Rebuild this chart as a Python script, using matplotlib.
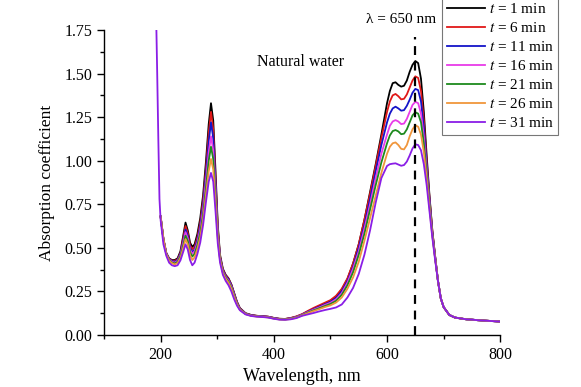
import numpy as np
import matplotlib.pyplot as plt
from matplotlib.ticker import MultipleLocator

plt.rcParams['font.family'] = ['Liberation Serif', 'DejaVu Serif']
plt.rcParams['mathtext.fontset'] = 'stix'

# wavelength grid (nm)
wl_uv = [200, 205, 210, 215, 220, 225, 230, 235, 240, 244, 248, 252, 256, 260,
         265, 270, 275, 280, 285, 289, 293, 297, 301, 305, 310, 315, 320, 325,
         330, 335, 340, 350, 360, 370, 380, 390, 400, 410, 420, 430, 440]
wl_mid = [450, 460, 470, 480, 490, 500, 510, 520, 530]
wl_vis = [540, 550, 560, 570, 580, 590, 600, 605, 610, 615, 620, 625, 630, 635,
          640, 645, 650, 655, 660, 665, 670, 675, 680, 685, 690, 695, 700]
wl_tail = [710, 720, 730, 740, 750, 760, 770, 780, 790, 800]
wl = wl_uv + wl_mid + wl_vis + wl_tail

# purple curve starts lower in wavelength
wl_start31 = [192, 194, 196, 198]
start31 = [1.85, 1.50, 1.12, 0.78]

tail = [0.115, 0.100, 0.095, 0.090, 0.088, 0.085, 0.083, 0.081, 0.079, 0.077]

a1 = ([0.68, 0.55, 0.47, 0.44, 0.43, 0.43, 0.44, 0.48, 0.57, 0.645, 0.60, 0.53, 0.505, 0.52,
       0.58, 0.67, 0.80, 0.99, 1.21, 1.33, 1.23, 0.94, 0.63, 0.46, 0.38, 0.345, 0.325, 0.29,
       0.24, 0.19, 0.155, 0.125, 0.115, 0.11, 0.108, 0.105, 0.098, 0.093, 0.092, 0.097, 0.105]
      + [0.118, 0.135, 0.15, 0.165, 0.18, 0.195, 0.22, 0.26, 0.32]
      + [0.41, 0.52, 0.66, 0.82, 0.98, 1.15, 1.33, 1.40, 1.445, 1.45, 1.435, 1.425, 1.43, 1.46,
         1.51, 1.55, 1.572, 1.56, 1.47, 1.28, 1.03, 0.80, 0.60, 0.45, 0.31, 0.21, 0.16]
      + tail)
a6 = ([0.68, 0.55, 0.47, 0.438, 0.427, 0.425, 0.435, 0.47, 0.555, 0.625, 0.585, 0.515, 0.49, 0.505,
       0.56, 0.645, 0.77, 0.95, 1.16, 1.28, 1.18, 0.90, 0.615, 0.45, 0.375, 0.342, 0.322, 0.288,
       0.238, 0.188, 0.153, 0.124, 0.114, 0.11, 0.108, 0.105, 0.098, 0.093, 0.092, 0.098, 0.107]
      + [0.12, 0.138, 0.155, 0.17, 0.185, 0.20, 0.225, 0.265, 0.325]
      + [0.41, 0.52, 0.66, 0.81, 0.97, 1.13, 1.28, 1.34, 1.375, 1.383, 1.37, 1.352, 1.355, 1.38,
         1.42, 1.46, 1.484, 1.475, 1.40, 1.23, 1.00, 0.79, 0.60, 0.45, 0.31, 0.21, 0.16]
      + tail)
a11 = ([0.68, 0.55, 0.47, 0.436, 0.424, 0.42, 0.43, 0.465, 0.54, 0.605, 0.57, 0.50, 0.475, 0.49,
        0.545, 0.625, 0.745, 0.92, 1.11, 1.22, 1.13, 0.87, 0.60, 0.445, 0.37, 0.338, 0.318, 0.284,
        0.234, 0.185, 0.151, 0.123, 0.113, 0.109, 0.107, 0.104, 0.097, 0.092, 0.091, 0.096, 0.104]
       + [0.117, 0.133, 0.148, 0.162, 0.176, 0.19, 0.212, 0.25, 0.31]
       + [0.39, 0.50, 0.63, 0.78, 0.94, 1.09, 1.22, 1.27, 1.30, 1.31, 1.30, 1.287, 1.29, 1.315,
          1.35, 1.39, 1.412, 1.405, 1.34, 1.19, 0.98, 0.78, 0.59, 0.45, 0.31, 0.21, 0.16]
       + tail)
a16 = ([0.68, 0.55, 0.468, 0.433, 0.42, 0.415, 0.425, 0.458, 0.53, 0.59, 0.555, 0.49, 0.465, 0.48,
        0.53, 0.605, 0.72, 0.88, 1.05, 1.14, 1.06, 0.83, 0.585, 0.44, 0.365, 0.333, 0.312, 0.278,
        0.229, 0.182, 0.149, 0.122, 0.112, 0.108, 0.106, 0.103, 0.096, 0.091, 0.09, 0.095, 0.103]
       + [0.116, 0.131, 0.145, 0.158, 0.172, 0.185, 0.205, 0.24, 0.30]
       + [0.38, 0.48, 0.61, 0.75, 0.90, 1.04, 1.15, 1.20, 1.225, 1.233, 1.225, 1.21, 1.213, 1.24,
          1.28, 1.32, 1.338, 1.33, 1.27, 1.14, 0.95, 0.76, 0.58, 0.44, 0.31, 0.21, 0.16]
       + tail)
a21 = ([0.68, 0.55, 0.466, 0.43, 0.416, 0.41, 0.42, 0.452, 0.515, 0.57, 0.54, 0.475, 0.45, 0.465,
        0.515, 0.585, 0.69, 0.84, 1.00, 1.08, 1.01, 0.80, 0.57, 0.435, 0.36, 0.328, 0.306, 0.272,
        0.224, 0.179, 0.147, 0.121, 0.111, 0.107, 0.105, 0.102, 0.095, 0.09, 0.089, 0.094, 0.101]
       + [0.114, 0.128, 0.141, 0.153, 0.166, 0.178, 0.196, 0.23, 0.285]
       + [0.36, 0.46, 0.58, 0.72, 0.86, 0.99, 1.10, 1.145, 1.17, 1.176, 1.168, 1.152, 1.155, 1.18,
          1.22, 1.26, 1.278, 1.27, 1.22, 1.10, 0.93, 0.75, 0.58, 0.44, 0.31, 0.21, 0.16]
       + tail)
a26 = ([0.68, 0.55, 0.464, 0.427, 0.412, 0.405, 0.413, 0.442, 0.50, 0.55, 0.52, 0.458, 0.43, 0.445,
        0.495, 0.56, 0.66, 0.80, 0.94, 1.01, 0.95, 0.76, 0.555, 0.43, 0.355, 0.322, 0.30, 0.265,
        0.218, 0.175, 0.145, 0.12, 0.11, 0.106, 0.104, 0.101, 0.094, 0.089, 0.088, 0.092, 0.099]
       + [0.112, 0.125, 0.137, 0.148, 0.160, 0.17, 0.186, 0.215, 0.265]
       + [0.33, 0.42, 0.54, 0.67, 0.80, 0.93, 1.04, 1.08, 1.10, 1.105, 1.09, 1.068, 1.065, 1.09,
          1.14, 1.18, 1.203, 1.195, 1.15, 1.05, 0.90, 0.73, 0.57, 0.44, 0.31, 0.21, 0.16]
       + tail)
a31 = ([0.66, 0.52, 0.455, 0.415, 0.40, 0.395, 0.40, 0.428, 0.478, 0.52, 0.49, 0.43, 0.40, 0.415,
        0.465, 0.53, 0.63, 0.76, 0.88, 0.93, 0.88, 0.71, 0.525, 0.415, 0.345, 0.31, 0.285, 0.25,
        0.205, 0.168, 0.142, 0.118, 0.109, 0.105, 0.103, 0.10, 0.093, 0.088, 0.087, 0.09, 0.097]
       + [0.11, 0.118, 0.126, 0.135, 0.143, 0.15, 0.158, 0.175, 0.215]
       + [0.27, 0.35, 0.46, 0.60, 0.76, 0.90, 0.97, 0.98, 0.983, 0.985, 0.978, 0.971, 0.975, 0.995,
          1.03, 1.07, 1.094, 1.09, 1.06, 0.98, 0.86, 0.71, 0.56, 0.43, 0.31, 0.21, 0.16]
       + tail)

labels = ['1', '6', '11', '16', '21', '26', '31']
colors = ['black', '#e01818', '#1414c8', '#e83ce8', '#1e8a1e', '#f0963c', '#8a1ee6']

fig = plt.figure(figsize=(5.81, 3.87), dpi=100)
ax = fig.add_axes([0.179, 0.1344, 0.682, 0.7881])

series = [a1, a6, a11, a16, a21, a26, a31]
for i, y in enumerate(series):
    if i == 6:
        x = wl_start31 + wl
        y = start31 + y
    else:
        x = wl
    ax.plot(x, y, color=colors[i], lw=1.3, label='$t$ = %s min' % labels[i])

ax.plot([650, 650], [0, 1.71], color='black', lw=1.6, ls=(0, (4, 3)))
ax.text(624, 1.81, 'λ = 650 nm', ha='center', va='center', fontsize=11)
ax.text(447, 1.565, 'Natural water', ha='center', va='center', fontsize=11.5)

ax.set_xlim(100, 800)
ax.set_ylim(0, 1.75)
ax.xaxis.set_major_locator(MultipleLocator(200))
ax.xaxis.set_minor_locator(MultipleLocator(100))
ax.yaxis.set_major_locator(MultipleLocator(0.25))
ax.yaxis.set_minor_locator(MultipleLocator(0.125))
ax.set_xticks([200, 400, 600, 800])
ax.yaxis.set_major_formatter(plt.FormatStrFormatter('%.2f'))
ax.tick_params(which='major', direction='out', length=5, width=1, labelsize=11.5)
ax.tick_params(which='minor', direction='out', length=3, width=1)
for s in ['top', 'right']:
    ax.spines[s].set_visible(False)
for s in ['left', 'bottom']:
    ax.spines[s].set_linewidth(1)

ax.set_xlabel('Wavelength, nm', fontsize=13, labelpad=4)
ax.set_ylabel('Absorption coefficient', fontsize=12.5, labelpad=7)

leg = fig.legend(loc='lower right', bbox_to_anchor=(0.961, 0.651), fontsize=11,
                 frameon=True, fancybox=False, handlelength=2.5, handletextpad=0.25,
                 labelspacing=0.33, borderpad=0.3, borderaxespad=0)
leg.get_frame().set_edgecolor('#555555')
leg.get_frame().set_linewidth(0.8)

fig.savefig('out.png', dpi=100)
